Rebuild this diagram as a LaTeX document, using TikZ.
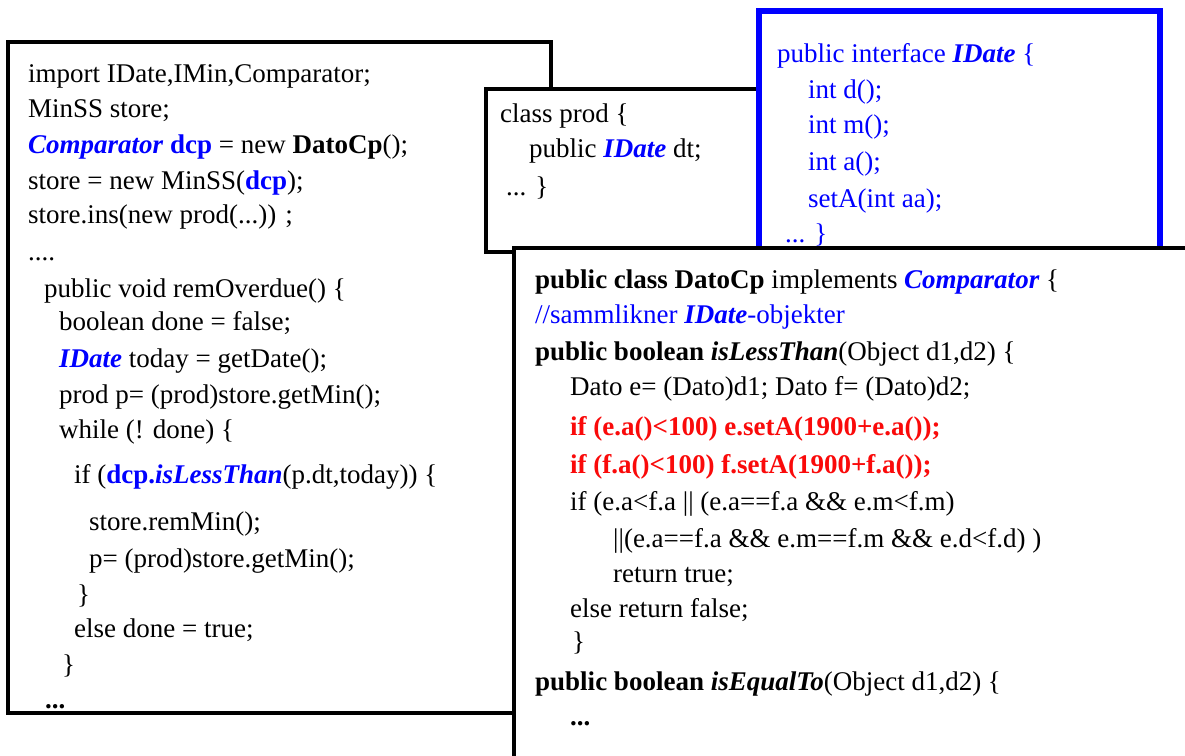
\documentclass[tikz,border=0pt]{standalone}
\usepackage{fontspec}
\setmainfont{Liberation Serif}
\definecolor{codeblue}{RGB}{0,0,255}
\definecolor{codered}{RGB}{250,10,10}
\newcommand{\bb}[1]{\textbf{#1}}
\newcommand{\bbi}[1]{\textbf{\textit{#1}}}
\newcommand{\tyb}[1]{\textcolor{codeblue}{\textbf{\textit{#1}}}}
\newcommand{\vb}[1]{\textcolor{codeblue}{\textbf{#1}}}
\tikzset{
  code/.style={anchor=base west, inner sep=0pt, font=\fontsize{27}{32}\selectfont},
  panel/.style={draw=black, fill=white, line width=3.5pt},
  ipanel/.style={draw=codeblue, fill=white, line width=6pt},
}
\begin{document}
\begin{tikzpicture}[x=1pt,y=-1pt]
\useasboundingbox (0,0) rectangle (1185,755);
\clip (0,0) rectangle (1185,755);

% client code
\coordinate (mainNW) at (8,42);
\coordinate (mainSE) at (551,713);
\path[panel] (mainNW) rectangle (mainSE);
\node[code] (m1)  at (28,82)  {import IDate,IMin,Comparator;};
\node[code] (m2)  at (28,117) {MinSS store;};
\node[code] (m3)  at (28,153) {\tyb{Comparator} \vb{dcp} = new \bb{DatoCp}();};
\node[code] (m4)  at (28,189) {store = new MinSS(\vb{dcp});};
\node[code] (m5)  at (28,223) {store.ins(new prod(...)) ;};
\node[code] (m6)  at (28,260) {....};
\node[code] (m7)  at (44,297) {public void remOverdue() \{};
\node[code] (m8)  at (59,330) {boolean done = false;};
\node[code] (m9)  at (59,367) {\tyb{IDate} today = getDate();};
\node[code] (m10) at (59,403) {prod p= (prod)store.getMin();};
\node[code] (m11) at (59,438) {while (! done) \{};
\node[code] (m12) at (74,483) {if (\vb{dcp.}\tyb{isLessThan}(p.dt,today)) \{};
\node[code] (m13) at (89,530) {store.remMin();};
\node[code] (m14) at (89,567) {p= (prod)store.getMin();};
\node[code] (m15) at (77,603) {\}};
\node[code] (m16) at (74,637) {else done = true;};
\node[code] (m17) at (62,673) {\}};
\node[code] (m18) at (45,708) {\bb{...}};

% class prod
\coordinate (prodNW) at (486,89);
\coordinate (prodSE) at (790,252);
\path[panel] (prodNW) rectangle (prodSE);
\node[code] (p1) at (500,122) {class prod \{};
\node[code] (p2) at (529,157) {public \tyb{IDate} dt;};
\node[code] (p3) at (506,195) {... \}};

% interface IDate
\coordinate (ifNW) at (759,11);
\coordinate (ifSE) at (1160,290);
\path[ipanel] (ifNW) rectangle (ifSE);
\begin{scope}[every node/.append style={text=codeblue}]
\node[code] (i1) at (777,62)  {public interface \bbi{IDate} \{};
\node[code] (i2) at (808,98)  {int d();};
\node[code] (i3) at (808,133) {int m();};
\node[code] (i4) at (808,170) {int a();};
\node[code] (i5) at (808,207) {setA(int aa);};
\node[code] (i6) at (785,242) {... \}};
\end{scope}

% class DatoCp
\coordinate (cmpNW) at (514,248);
\coordinate (cmpSE) at (1220,790);
\path[panel] (cmpNW) rectangle (cmpSE);
\node[code] (c1)  at (535,288) {\bb{public class DatoCp} implements \tyb{Comparator} \{};
\node[code] (c2)  at (535,323) {\textcolor{codeblue}{//sammlikner \bbi{IDate}-objekter}};
\node[code] (c3)  at (535,360) {\bb{public boolean \textit{isLessThan}}(Object d1,d2) \{};
\node[code] (c4)  at (570,395) {Dato e= (Dato)d1; Dato f= (Dato)d2;};
\node[code] (c5)  at (570,435) {\textcolor{codered}{\bb{if (e.a()<100) e.setA(1900+e.a());}}};
\node[code] (c6)  at (570,473) {\textcolor{codered}{\bb{if (f.a()<100) f.setA(1900+f.a());}}};
\node[code] (c7)  at (570,510) {if (e.a<f.a || (e.a==f.a \&\& e.m<f.m)};
\node[code] (c8)  at (613,547) {||(e.a==f.a \&\& e.m==f.m \&\& e.d<f.d) )};
\node[code] (c9)  at (613,582) {return true;};
\node[code] (c10) at (570,617) {else return false;};
\node[code] (c11) at (572,650) {\}};
\node[code] (c12) at (535,690) {\bb{public boolean \textit{isEqualTo}}(Object d1,d2) \{};
\node[code] (c13) at (570,725) {\bb{...}};
\end{tikzpicture}
\end{document}
